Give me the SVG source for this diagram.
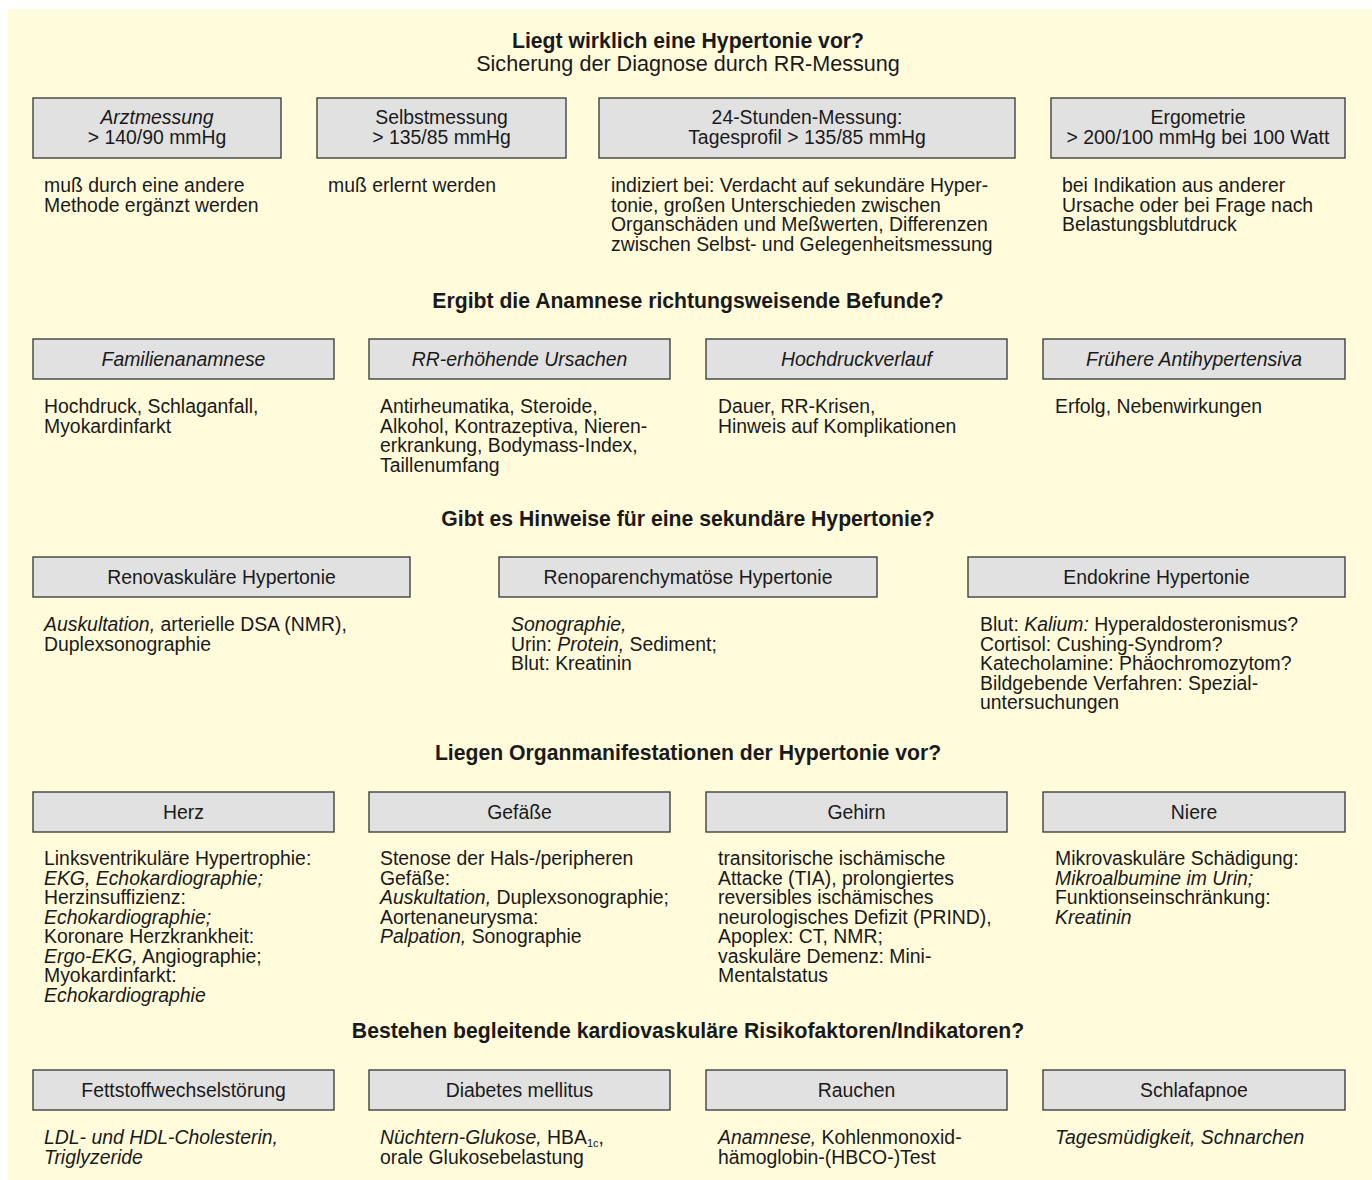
<svg xmlns="http://www.w3.org/2000/svg" width="1372" height="1180" viewBox="0 0 1372 1180">
<style>
text{font-family:"Liberation Sans",Arial,sans-serif;font-size:19.4px;fill:#1a1a1a}
.h{font-weight:bold;text-anchor:middle;font-size:21.2px}
.s{font-size:21.6px}
.c{text-anchor:middle}
.i{font-style:italic}
.box{fill:#e1e1e1;stroke:#333;stroke-width:1.3}
</style>
<rect x="0" y="0" width="1372" height="1180" fill="#ffffff"/>
<rect x="8" y="9" width="1364" height="1171" fill="#fffbdb"/>

<g id="section1">
<text class="h" x="688" y="48">Liegt wirklich eine Hypertonie vor?</text>
<text class="c s" x="688" y="71">Sicherung der Diagnose durch RR-Messung</text>
</g>
<g id="arztmessung">
<rect class="box" x="33" y="98" width="248" height="60"/>
<text class="c i" x="157" y="124">Arztmessung</text>
<text class="c" x="157" y="144">&gt; 140/90 mmHg</text>
<text x="44" y="192">muß durch eine andere</text>
<text x="44" y="211.5">Methode ergänzt werden</text>
</g>
<g id="selbstmessung">
<rect class="box" x="317" y="98" width="249" height="60"/>
<text class="c" x="441.5" y="124">Selbstmessung</text>
<text class="c" x="441.5" y="144">&gt; 135/85 mmHg</text>
<text x="328" y="192">muß erlernt werden</text>
</g>
<g id="stunden24">
<rect class="box" x="599" y="98" width="416" height="60"/>
<text class="c" x="807" y="124">24-Stunden-Messung:</text>
<text class="c" x="807" y="144">Tagesprofil &gt; 135/85 mmHg</text>
<text x="611" y="192">indiziert bei: Verdacht auf sekundäre Hyper-</text>
<text x="611" y="211.5">tonie, großen Unterschieden zwischen</text>
<text x="611" y="231">Organschäden und Meßwerten, Differenzen</text>
<text x="611" y="250.5">zwischen Selbst- und Gelegenheitsmessung</text>
</g>
<g id="ergometrie">
<rect class="box" x="1051" y="98" width="294" height="60"/>
<text class="c" x="1198" y="124">Ergometrie</text>
<text class="c" x="1198" y="144">&gt; 200/100 mmHg bei 100 Watt</text>
<text x="1062" y="192">bei Indikation aus anderer</text>
<text x="1062" y="211.5">Ursache oder bei Frage nach</text>
<text x="1062" y="231">Belastungsblutdruck</text>
</g>

<g id="section2">
<text class="h" x="688" y="308">Ergibt die Anamnese richtungsweisende Befunde?</text>
</g>
<g id="familienanamnese">
<rect class="box" x="33" y="339" width="301" height="40"/>
<text class="c i" x="183.5" y="366">Familienanamnese</text>
<text x="44" y="413">Hochdruck, Schlaganfall,</text>
<text x="44" y="432.5">Myokardinfarkt</text>
</g>
<g id="rr-ursachen">
<rect class="box" x="369" y="339" width="301" height="40"/>
<text class="c i" x="519.5" y="366">RR-erhöhende Ursachen</text>
<text x="380" y="413">Antirheumatika, Steroide,</text>
<text x="380" y="432.5">Alkohol, Kontrazeptiva, Nieren-</text>
<text x="380" y="452">erkrankung, Bodymass-Index,</text>
<text x="380" y="471.5">Taillenumfang</text>
</g>
<g id="hochdruckverlauf">
<rect class="box" x="706" y="339" width="301" height="40"/>
<text class="c i" x="856.5" y="366">Hochdruckverlauf</text>
<text x="718" y="413">Dauer, RR-Krisen,</text>
<text x="718" y="432.5">Hinweis auf Komplikationen</text>
</g>
<g id="antihypertensiva">
<rect class="box" x="1043" y="339" width="302" height="40"/>
<text class="c i" x="1194" y="366">Frühere Antihypertensiva</text>
<text x="1055" y="413">Erfolg, Nebenwirkungen</text>
</g>

<g id="section3">
<text class="h" x="688" y="526">Gibt es Hinweise für eine sekundäre Hypertonie?</text>
</g>
<g id="renovaskulaer">
<rect class="box" x="33" y="557" width="377" height="40"/>
<text class="c" x="221.5" y="584">Renovaskuläre Hypertonie</text>
<text x="44" y="631"><tspan class="i">Auskultation,</tspan> arterielle DSA (NMR),</text>
<text x="44" y="650.5">Duplexsonographie</text>
</g>
<g id="renoparenchymatoes">
<rect class="box" x="499" y="557" width="378" height="40"/>
<text class="c" x="688" y="584">Renoparenchymatöse Hypertonie</text>
<text x="511" y="631" class="i">Sonographie,</text>
<text x="511" y="650.5">Urin: <tspan class="i">Protein,</tspan> Sediment;</text>
<text x="511" y="670">Blut: Kreatinin</text>
</g>
<g id="endokrin">
<rect class="box" x="968" y="557" width="377" height="40"/>
<text class="c" x="1156.5" y="584">Endokrine Hypertonie</text>
<text x="980" y="631">Blut: <tspan class="i">Kalium:</tspan> Hyperaldosteronismus?</text>
<text x="980" y="650.5">Cortisol: Cushing-Syndrom?</text>
<text x="980" y="670">Katecholamine: Phäochromozytom?</text>
<text x="980" y="689.5">Bildgebende Verfahren: Spezial-</text>
<text x="980" y="709">untersuchungen</text>
</g>

<g id="section4">
<text class="h" x="688" y="760">Liegen Organmanifestationen der Hypertonie vor?</text>
</g>
<g id="herz">
<rect class="box" x="33" y="792" width="301" height="40"/>
<text class="c" x="183.5" y="819">Herz</text>
<text x="44" y="865">Linksventrikuläre Hypertrophie:</text>
<text x="44" y="884.5" class="i">EKG, Echokardiographie;</text>
<text x="44" y="904">Herzinsuffizienz:</text>
<text x="44" y="923.5" class="i">Echokardiographie;</text>
<text x="44" y="943">Koronare Herzkrankheit:</text>
<text x="44" y="962.5"><tspan class="i">Ergo-EKG,</tspan> Angiographie;</text>
<text x="44" y="982">Myokardinfarkt:</text>
<text x="44" y="1001.5" class="i">Echokardiographie</text>
</g>
<g id="gefaesse">
<rect class="box" x="369" y="792" width="301" height="40"/>
<text class="c" x="519.5" y="819">Gefäße</text>
<text x="380" y="865">Stenose der Hals-/peripheren</text>
<text x="380" y="884.5">Gefäße:</text>
<text x="380" y="904"><tspan class="i">Auskultation,</tspan> Duplexsonographie;</text>
<text x="380" y="923.5">Aortenaneurysma:</text>
<text x="380" y="943"><tspan class="i">Palpation,</tspan> Sonographie</text>
</g>
<g id="gehirn">
<rect class="box" x="706" y="792" width="301" height="40"/>
<text class="c" x="856.5" y="819">Gehirn</text>
<text x="718" y="865">transitorische ischämische</text>
<text x="718" y="884.5">Attacke (TIA), prolongiertes</text>
<text x="718" y="904">reversibles ischämisches</text>
<text x="718" y="923.5">neurologisches Defizit (PRIND),</text>
<text x="718" y="943">Apoplex: CT, NMR;</text>
<text x="718" y="962.5">vaskuläre Demenz: Mini-</text>
<text x="718" y="982">Mentalstatus</text>
</g>
<g id="niere">
<rect class="box" x="1043" y="792" width="302" height="40"/>
<text class="c" x="1194" y="819">Niere</text>
<text x="1055" y="865">Mikrovaskuläre Schädigung:</text>
<text x="1055" y="884.5" class="i">Mikroalbumine im Urin;</text>
<text x="1055" y="904">Funktionseinschränkung:</text>
<text x="1055" y="923.5" class="i">Kreatinin</text>
</g>

<g id="section5">
<text class="h" x="688" y="1038">Bestehen begleitende kardiovaskuläre Risikofaktoren/Indikatoren?</text>
</g>
<g id="fettstoffwechsel">
<rect class="box" x="33" y="1070" width="301" height="40"/>
<text class="c" x="183.5" y="1097">Fettstoffwechselstörung</text>
<text x="44" y="1144" class="i">LDL- und HDL-Cholesterin,</text>
<text x="44" y="1163.5" class="i">Triglyzeride</text>
</g>
<g id="diabetes">
<rect class="box" x="369" y="1070" width="301" height="40"/>
<text class="c" x="519.5" y="1097">Diabetes mellitus</text>
<text x="380" y="1144"><tspan class="i">Nüchtern-Glukose,</tspan> HBA<tspan font-size="11" dy="3">1c</tspan><tspan dy="-3">,</tspan></text>
<text x="380" y="1163.5">orale Glukosebelastung</text>
</g>
<g id="rauchen">
<rect class="box" x="706" y="1070" width="301" height="40"/>
<text class="c" x="856.5" y="1097">Rauchen</text>
<text x="718" y="1144"><tspan class="i">Anamnese,</tspan> Kohlenmonoxid-</text>
<text x="718" y="1163.5">hämoglobin-(HBCO-)Test</text>
</g>
<g id="schlafapnoe">
<rect class="box" x="1043" y="1070" width="302" height="40"/>
<text class="c" x="1194" y="1097">Schlafapnoe</text>
<text x="1055" y="1144" class="i">Tagesmüdigkeit, Schnarchen</text>
</g>
<g id="connectors"></g>
</svg>
